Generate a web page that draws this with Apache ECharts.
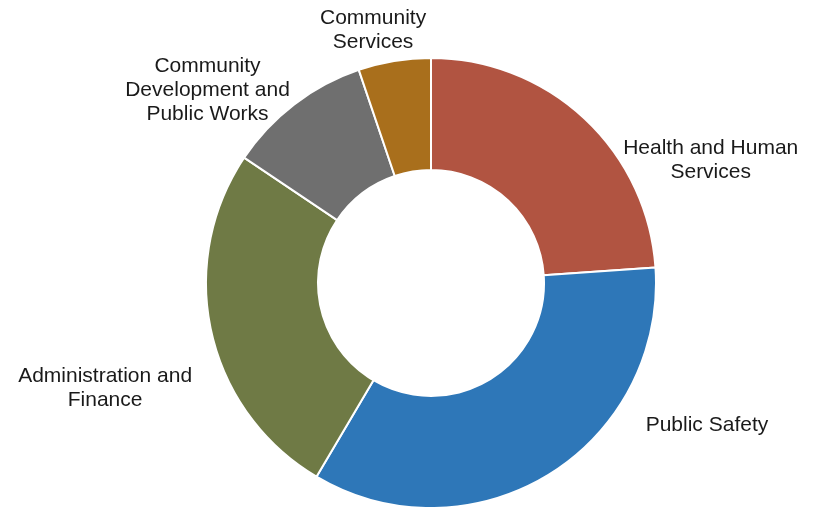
<!DOCTYPE html>
<html>
<head>
<meta charset="utf-8">
<script src="https://cdn.jsdelivr.net/npm/echarts@6/dist/echarts.min.js"></script>
<style>
html,body{margin:0;padding:0;background:#fff;}
#chart{width:831px;height:507px;}
</style>
</head>
<body>
<div id="chart"></div>
<script>
var categories = ['Health and Human\nServices', 'Public Safety', 'Administration and\nFinance', 'Community\nDevelopment and\nPublic Works', 'Community\nServices'];
var values = [23.9, 34.6, 25.9, 10.4, 5.2];
var colors = ['#B15441', '#2E77B8', '#6F7A45', '#6F6F6F', '#A96F1C'];
var labelOffsets = [[10, 56], [71, -66], [15, 51], [36, -13], [50, -11]];

var chart = echarts.init(document.getElementById('chart'));
chart.setOption({
  animation: false,
  series: [{
    type: 'pie',
    center: [431, 283],
    radius: [113, 225],
    startAngle: 90,
    clockwise: true,
    itemStyle: { borderColor: '#fff', borderWidth: 2 },
    label: {
      show: true,
      position: 'outside',
      overflow: 'none',
      color: '#1a1a1a',
      fontFamily: 'Liberation Sans, Arial, sans-serif',
      fontSize: 21,
      lineHeight: 24
    },
    labelLine: { show: false, length: 20, length2: 10 },
    labelLayout: function (p) {
      var o = labelOffsets[p.dataIndex];
      return {
        x: p.labelRect.x + p.labelRect.width / 2 + o[0],
        y: p.labelRect.y + p.labelRect.height / 2 + o[1],
        align: 'center',
        verticalAlign: 'middle'
      };
    },
    data: categories.map(function (c, i) {
      return { name: c, value: values[i], itemStyle: { color: colors[i] } };
    })
  }]
});
</script>
</body>
</html>
